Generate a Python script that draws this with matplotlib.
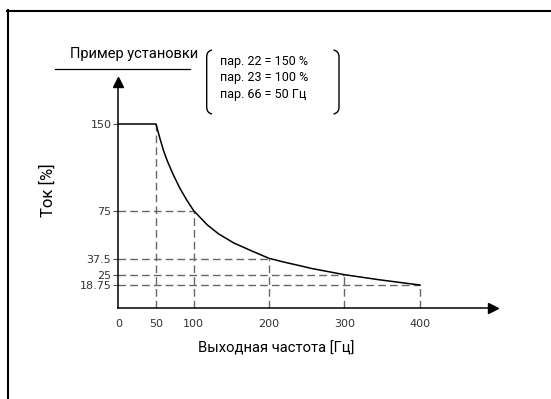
import numpy as np
import matplotlib
matplotlib.use("Agg")
import matplotlib.pyplot as plt
from matplotlib.lines import Line2D
from matplotlib.path import Path
from matplotlib.patches import PathPatch

# curve
freq = [0, 50, 55, 60, 65, 73, 82, 91, 100, 118, 133, 153, 176, 200, 220, 242, 256, 300, 345, 387, 400]
current = [150, 150, 138, 127, 118, 106, 94, 84, 75, 64, 57, 50, 44, 38, 35, 32, 30, 25, 22, 19.5, 18.75]

# guide lines / ticks
guide_freq = [50, 100, 200, 300, 400]
guide_curr = [150, 75, 37.5, 25, 18.75]
y_ticks = [18.75, 25, 37.5, 75, 150]
y_labels = ["18.75", "25", "37.5", "75", "150"]
x_ticks = [0, 50, 100, 200, 300, 400]
x_labels = ["0", "50", "100", "200", "300", "400"]

settings = ["пар. 22 = 150 %", "пар. 23 = 100 %", "пар. 66 = 50 Гц"]

# the y axis of the drawing is not linear -> piecewise scale
scale_vals = np.array([0, 18.75, 25, 37.5, 75, 150, 250])
scale_pos = np.array([0, 23.3, 33.6, 49.3, 97.6, 184.3, 299.9])

def fwd(v):
    return np.interp(v, scale_vals, scale_pos)

def inv(p):
    return np.interp(p, scale_pos, scale_vals)

W, H = 551, 399
NARROW = ["Roboto", "DejaVu Sans"]

def px(x, y):
    return x / W, 1 - y / H

fig = plt.figure(figsize=(W / 100, H / 100), dpi=100)
ax_w = 493 - 118.3
ax_h = 308.3 - 81.7
ax = fig.add_axes([118.3 / W, (H - 308.3) / H, ax_w / W, ax_h / H])
ax.set_yscale("function", functions=(fwd, inv))
ax.set_xlim(0, ax_w / 0.754)
ax.set_ylim(0, float(inv(ax_h)))

# dashed guides
for f, c in zip(guide_freq, guide_curr):
    ax.plot([f, f], [0, c], color="#666666", lw=1.0, dashes=(5.5, 3), clip_on=False)
    if f != 50:
        ax.plot([0, f], [c, c], color="#666666", lw=1.0, dashes=(5.5, 3), clip_on=False)

# main curve
ax.plot(freq, current, color="black", lw=1.1, solid_joinstyle="round", clip_on=False)

for s in ["top", "right"]:
    ax.spines[s].set_visible(False)
for s in ["left", "bottom"]:
    ax.spines[s].set_linewidth(1.1)

# arrow heads
ax.plot([0], [1], marker="^", ms=7.2, color="black", transform=ax.transAxes, clip_on=False)
ax.plot([1], [0], marker=">", ms=7.2, color="black", transform=ax.transAxes, clip_on=False)

ax.set_yticks(y_ticks)
ax.set_yticklabels(y_labels)
ax.yaxis.set_minor_locator(plt.NullLocator())
ax.set_xticks(x_ticks)
ax.set_xticklabels(x_labels)
ax.tick_params(axis="y", direction="out", length=3.5, width=0.8, color="#555555",
               pad=1.5, labelsize=8, labelcolor="#333333")
ax.tick_params(axis="x", length=0, pad=8, labelsize=8, labelcolor="#333333")

ax.set_xlabel("Выходная частота [Гц]", fontsize=10.6, family=NARROW)
ax.set_ylabel("Ток [%]", fontsize=12, family=NARROW)
ax.xaxis.set_label_coords((276.7 - 118.3) / ax_w, -(341.5 - 308.3) / ax_h)
ax.yaxis.set_label_coords(-(118.3 - 56) / ax_w, (308.3 - 190) / ax_h)

# title with underline
fig.text(*px(134, 54), "Пример установки", fontsize=10.5, family=NARROW, ha="center", va="center")
fig.add_artist(Line2D([55 / W, 190 / W], [1 - 69 / H, 1 - 69 / H], color="black", lw=0.9,
                      transform=fig.transFigure))

# bracketed settings
for i, s in enumerate(settings):
    fig.text(*px(220, 61.5 + 16.5 * i), s, fontsize=9, family=NARROW, ha="left", va="center")

def bracket(xv, xc, y0, y1):
    verts = [px(xc, y0), px(xv, y0 + 1), px(xv, y0 + 7), px(xv, y1 - 7), px(xv, y1 - 1), px(xc, y1)]
    codes = [Path.MOVETO, Path.CURVE3, Path.CURVE3, Path.LINETO, Path.CURVE3, Path.CURVE3]
    fig.add_artist(PathPatch(Path(verts, codes), fill=False, lw=1.0, color="black",
                             transform=fig.transFigure))

bracket(206.7, 212, 50, 114)
bracket(339, 333.5, 50, 114)

# page frame (top and left only)
fig.add_artist(Line2D([8.3 / W, 8.3 / W], [0, 1 - 10 / H], color="black", lw=1.5,
                      transform=fig.transFigure))
fig.add_artist(Line2D([7.3 / W, 1], [1 - 11 / H, 1 - 11 / H], color="black", lw=1.5,
                      transform=fig.transFigure))

fig.savefig("out.png", dpi=100)
